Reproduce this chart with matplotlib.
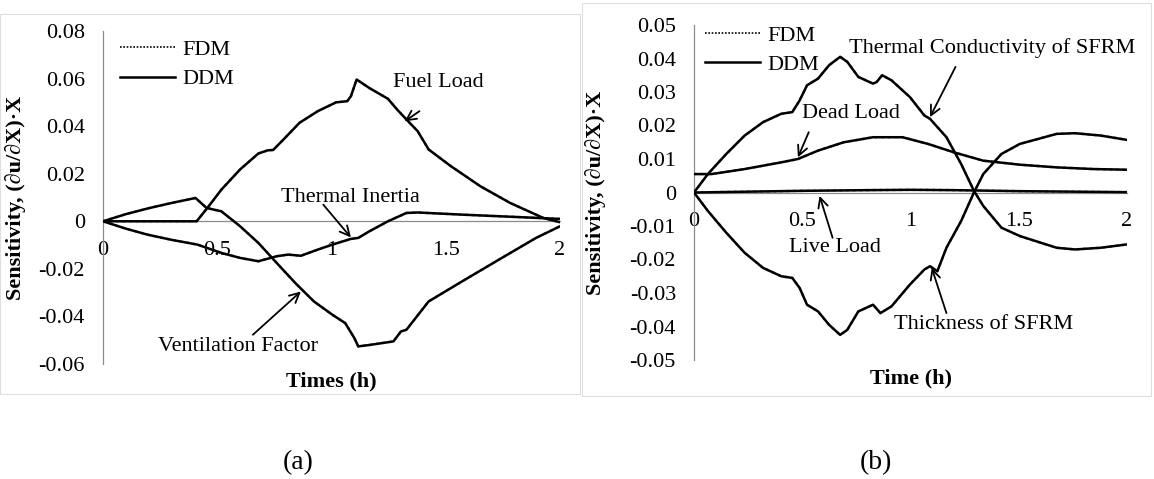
import matplotlib
matplotlib.use("Agg")
import matplotlib.pyplot as plt
from matplotlib.patches import Rectangle
from matplotlib.lines import Line2D

plt.rcParams['font.family'] = ['Liberation Serif', 'DejaVu Serif']

# ---------------- data: panel (a) ----------------
fuel_t = [0, 0.2, 0.41, 0.46, 0.518, 0.6, 0.68, 0.72, 0.745, 0.79, 0.86, 0.94, 1.02, 1.069,
          1.085, 1.11, 1.166, 1.247, 1.287, 1.328, 1.377, 1.425, 1.522, 1.652, 1.782, 1.927, 2.0]
fuel_v = [0, 0, 0, 0.006, 0.0133, 0.0218, 0.0285, 0.0298, 0.030, 0.0344, 0.0414, 0.0463, 0.050,
          0.0505, 0.0526, 0.0596, 0.056, 0.0515, 0.047, 0.0428, 0.0379, 0.0302, 0.0232, 0.0147,
          0.0077, 0.0014, -0.0004]

inertia_t = [0, 0.1, 0.194, 0.3, 0.413, 0.518, 0.6, 0.68, 0.76, 0.81, 0.866, 0.94, 1.004, 1.085,
             1.117, 1.166, 1.247, 1.328, 1.377, 1.57, 1.81, 2.0]
inertia_v = [0, -0.0031, -0.0056, -0.0078, -0.0098, -0.0133, -0.0154, -0.0168, -0.0147, -0.014,
             -0.0145, -0.0119, -0.0098, -0.0074, -0.007, -0.0042, 0.0, 0.0035, 0.0037, 0.0028,
             0.0018, 0.001]

vent_t = [0, 0.1, 0.2, 0.3, 0.405, 0.453, 0.518, 0.6, 0.68, 0.76, 0.842, 0.923, 1.004, 1.06, 1.10,
          1.117, 1.166, 1.271, 1.304, 1.328, 1.425, 1.571, 1.733, 1.895, 2.0]
vent_v = [0, 0.003, 0.0055, 0.0077, 0.0098, 0.0056, 0.0042, -0.0021, -0.0091, -0.0175, -0.026,
          -0.0337, -0.0393, -0.0428, -0.0491, -0.0526, -0.052, -0.0505, -0.0463, -0.0456,
          -0.0337, -0.0253, -0.0161, -0.007, -0.0021]

# ---------------- data: panel (b) ----------------
cond_t = [0, 0.064, 0.149, 0.234, 0.319, 0.403, 0.454, 0.488, 0.522, 0.573, 0.624, 0.675, 0.708,
          0.759, 0.793, 0.827, 0.844, 0.869, 0.912, 0.997, 1.064, 1.09, 1.166, 1.234, 1.293,
          1.336, 1.42, 1.505, 1.675, 1.76, 1.878, 2.0]
cond_v = [0, 0.0055, 0.0115, 0.017, 0.021, 0.0235, 0.024, 0.0275, 0.032, 0.034, 0.038, 0.0405,
          0.039, 0.0345, 0.0335, 0.0325, 0.033, 0.035, 0.0335, 0.0285, 0.023, 0.022, 0.0165,
          0.0085, 0.0005, -0.004, -0.0105, -0.013, -0.0165, -0.017, -0.0165, -0.0155]

thick_t = [0, 0.064, 0.149, 0.234, 0.319, 0.403, 0.454, 0.488, 0.522, 0.573, 0.624, 0.675, 0.708,
           0.759, 0.81, 0.827, 0.861, 0.912, 0.997, 1.064, 1.09, 1.124, 1.166, 1.234, 1.293,
           1.336, 1.42, 1.505, 1.675, 1.76, 1.878, 2.0]
thick_v = [0, -0.0055, -0.012, -0.018, -0.0225, -0.025, -0.0255, -0.0285, -0.0335, -0.0355,
           -0.0395, -0.0425, -0.041, -0.0355, -0.034, -0.0335, -0.036, -0.034, -0.0275, -0.023,
           -0.022, -0.0235, -0.0165, -0.0085, 0.0, 0.0055, 0.0115, 0.0145, 0.0175, 0.0177,
           0.017, 0.0157]

dead_t = [0, 0.081, 0.234, 0.403, 0.48, 0.573, 0.692, 0.827, 0.963, 1.081, 1.2, 1.336, 1.505,
          1.675, 1.844, 2.0]
dead_v = [0.0055, 0.0055, 0.007, 0.009, 0.010, 0.0125, 0.015, 0.0165, 0.0165, 0.0145, 0.012,
          0.0095, 0.0083, 0.0075, 0.007, 0.0068]

live_t = [0, 0.3, 0.5, 0.8, 1.0, 1.2, 1.5, 2.0]
live_v = [0, 0.0003, 0.0005, 0.0007, 0.0008, 0.0007, 0.0004, 0.0001]

# ---------------- ticks ----------------
x_ticks = [0, 0.5, 1, 1.5, 2]
x_labels = ['0', '0.5', '1', '1.5', '2']
ya_ticks = [-0.06, -0.04, -0.02, 0, 0.02, 0.04, 0.06, 0.08]
ya_labels = ['-0.06', '-0.04', '-0.02', '0', '0.02', '0.04', '0.06', '0.08']
yb_ticks = [-0.05, -0.04, -0.03, -0.02, -0.01, 0, 0.01, 0.02, 0.03, 0.04, 0.05]
yb_labels = ['-0.05', '-0.04', '-0.03', '-0.02', '-0.01', '0', '0.01', '0.02', '0.03', '0.04', '0.05']

FS = 16
W, H = 1154, 479
fig = plt.figure(figsize=(W / 100, H / 100), dpi=100)

# chart-area borders
fig.add_artist(Rectangle((0 / W, 1 - 394 / H), 580 / W, (394 - 14) / H, transform=fig.transFigure,
                         fill=False, edgecolor='#dedede', lw=0.8))
fig.add_artist(Rectangle((582 / W, 1 - 396 / H), 569 / W, (396 - 3) / H, transform=fig.transFigure,
                         fill=False, edgecolor='#dedede', lw=0.8))

axA = fig.add_axes([103 / W, 1 - 364 / H, 457 / W, 333 / H])
axB = fig.add_axes([694 / W, 1 - 360 / H, 433 / W, 335 / H])


def style(ax, yt, yl, ylim, xlabel, ylab_x, xlab_y):
    ax.set_xlim(0, 2)
    ax.set_ylim(*ylim)
    ax.set_xticks(x_ticks)
    ax.set_xticklabels(x_labels)
    ax.set_yticks(yt)
    ax.set_yticklabels(yl)
    for s in ['top', 'right']:
        ax.spines[s].set_visible(False)
    ax.spines['bottom'].set_position(('data', 0))
    for s in ['bottom', 'left']:
        ax.spines[s].set_color('#8c8c8c')
        ax.spines[s].set_linewidth(0.9)
    ax.tick_params(axis='both', length=0, labelsize=FS)
    ax.tick_params(axis='x', pad=14)
    ax.tick_params(axis='y', pad=13)
    ax.set_facecolor('none')
    ax.set_xlabel(xlabel, fontsize=FS, fontweight='bold')
    ax.xaxis.set_label_coords(0.5, xlab_y)
    ax.set_ylabel('Sensitivity, (\u2202u/\u2202X)\u00b7X', fontsize=FS, fontweight='bold')
    ax.yaxis.set_label_coords(ylab_x, 0.5)


style(axA, ya_ticks, ya_labels, (-0.06, 0.08), 'Times (h)', -0.168, -0.022)
style(axB, yb_ticks, yb_labels, (-0.05, 0.05), 'Time (h)', -0.203, -0.024)

LW = 1.8
for t, v in [(fuel_t, fuel_v), (inertia_t, inertia_v), (vent_t, vent_v)]:
    axA.plot(t, v, color='#7f7f7f', lw=LW, ls=':', zorder=2)
    axA.plot(t, v, color='black', lw=LW, zorder=3)
for t, v in [(cond_t, cond_v), (thick_t, thick_v), (dead_t, dead_v), (live_t, live_v)]:
    axB.plot(t, v, color='#7f7f7f', lw=LW, ls=':', zorder=2)
    axB.plot(t, v, color='black', lw=LW, zorder=3)

handles = [Line2D([], [], color='black', lw=1.2, ls=(0, (1, 1))),
           Line2D([], [], color='black', lw=1.8)]
for ax, anchor in [(axA, (0.037, 0.975)), (axB, (0.025, 1.0))]:
    ax.legend(handles, ['FDM', 'DDM'], loc='upper left', bbox_to_anchor=anchor, frameon=False,
              fontsize=FS, handlelength=2.5, handletextpad=0.3, labelspacing=0.4,
              borderpad=0, borderaxespad=0)

arrow = dict(arrowstyle='->,head_length=0.7,head_width=0.35', color='black', lw=1.3,
             shrinkA=0, shrinkB=0)


def label(ax, text, pos, tail, tip):
    ax.text(pos[0], pos[1], text, fontsize=FS, ha='center', va='center', zorder=5)
    ax.annotate('', xy=tip, xytext=tail, arrowprops=arrow, zorder=5)


label(axA, 'Fuel Load', (1.466, 0.0582), (1.385, 0.0463), (1.32, 0.042))
label(axA, 'Thermal Inertia', (1.085, 0.0098), (0.964, 0.007), (1.085, -0.0068))
label(axA, 'Ventilation Factor', (0.591, -0.0526), (0.656, -0.0477), (0.866, -0.0295))

label(axB, 'Thermal Conductivity of SFRM', (1.378, 0.043), (1.208, 0.0375), (1.09, 0.0225))
label(axB, 'Dead Load', (0.725, 0.0235), (0.53, 0.018), (0.48, 0.0105))
label(axB, 'Live Load', (0.649, -0.0165), (0.64, -0.0135), (0.58, -0.001))
label(axB, 'Thickness of SFRM', (1.336, -0.0395), (1.166, -0.036), (1.098, -0.0225))

fig.text(298 / W, 1 - 463 / H, '(a)', fontsize=20, ha='center', va='center')
fig.text(876 / W, 1 - 463 / H, '(b)', fontsize=20, ha='center', va='center')

fig.savefig('out.png', dpi=100)
